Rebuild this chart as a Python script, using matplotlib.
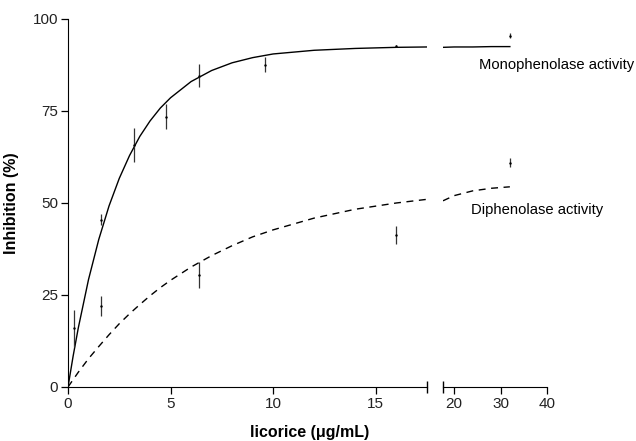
import matplotlib
matplotlib.use('Agg')
import matplotlib.pyplot as plt

plt.rcParams['font.family'] = ['Liberation Sans', 'DejaVu Sans']

mono_x = [0.3, 1.6, 3.2, 4.8, 6.4, 9.6, 16, 32]
mono_y = [16, 45.5, 65.7, 73.5, 84.6, 87.6, 92.7, 95.5]
mono_err = [5, 1.5, 4.6, 3.5, 3.2, 2.0, 0.3, 0.6]

diph_x = [1.6, 6.4, 16, 32]
diph_y = [22, 30.5, 41.3, 61]
diph_err = [2.7, 3.5, 2.5, 1.2]

# fitted curves
curve_x = [0, 0.25, 0.5, 1, 1.5, 2, 2.5, 3, 3.5, 4, 4.5, 5, 6, 7, 8, 9, 10, 12, 14, 16, 17.5]
mono_curve = [0, 8.4, 16.0, 29.2, 40.1, 49.2, 56.7, 62.9, 68.1, 72.3, 75.8, 78.6,
              83.0, 86.0, 88.1, 89.5, 90.5, 91.5, 92.0, 92.3, 92.4]
diph_curve = [0, 2.0, 4.0, 7.7, 11.0, 14.2, 17.2, 19.9, 22.4, 24.8, 27.0, 29.0,
              32.6, 35.7, 38.4, 40.8, 42.7, 45.9, 48.3, 50.0, 51.0]

curve_x2 = [17.6, 20, 24, 28, 32]
mono_curve2 = [92.3, 92.4, 92.4, 92.5, 92.5]
diph_curve2 = [50.6, 52.0, 53.3, 54.0, 54.4]

W, H = 636, 441
fig = plt.figure(figsize=(W / 100, H / 100), dpi=100)
ax1 = fig.add_axes([68 / W, (H - 387) / H, (427 - 68) / W, (387 - 19) / H])
ax2 = fig.add_axes([443 / W, (H - 387) / H, (547 - 443) / W, (387 - 19) / H])

for ax in (ax1, ax2):
    ax.set_ylim(0, 100)
    ax.spines['top'].set_visible(False)
    ax.spines['right'].set_visible(False)
    ax.tick_params(direction='out', length=5, width=0.9, labelsize=11, pad=2,
                   labelcolor='#222222')
    ax.patch.set_alpha(0)

ax1.set_xlim(0, 17.5)
ax2.set_xlim(17.6, 40)
ax1.set_xticks([0, 5, 10, 15])
ax1.set_yticks([0, 25, 50, 75, 100])
ax2.set_xticks([20, 30, 40])
ax2.spines['left'].set_visible(False)
ax2.set_yticks([])

ax1.plot(curve_x, mono_curve, color='black', lw=1.0)
ax1.plot(curve_x, diph_curve, color='black', lw=1.0, linestyle=(0, (5, 4)))
ax2.plot(curve_x2, mono_curve2, color='black', lw=1.0)
ax2.plot(curve_x2, diph_curve2, color='black', lw=1.0, linestyle=(0, (5, 4)))

for ax, lo, hi in ((ax1, 0, 17.5), (ax2, 17.6, 40)):
    mx = [v for v in mono_x if lo <= v <= hi]
    my = [mono_y[i] for i, v in enumerate(mono_x) if lo <= v <= hi]
    me = [mono_err[i] for i, v in enumerate(mono_x) if lo <= v <= hi]
    ax.errorbar(mx, my, yerr=me, fmt='.', ms=1.5, color='black', ecolor='#333333',
                elinewidth=0.9, capsize=0)
    dx = [v for v in diph_x if lo <= v <= hi]
    dy = [diph_y[i] for i, v in enumerate(diph_x) if lo <= v <= hi]
    de = [diph_err[i] for i, v in enumerate(diph_x) if lo <= v <= hi]
    ax.errorbar(dx, dy, yerr=de, fmt='.', ms=1.5, color='black', ecolor='#333333',
                elinewidth=0.9, capsize=0)

# break marks at the ends of the split x axis
ax1.plot([17.5], [0], marker='|', ms=9, mew=1, color='black', clip_on=False)
ax2.plot([17.6], [0], marker='|', ms=9, mew=1, color='black', clip_on=False)

ax2.text(25.4, 87.5, 'Monophenolase activity', fontsize=10.6, va='center', clip_on=False)
ax2.text(23.6, 48.2, 'Diphenolase activity', fontsize=10.6, va='center', clip_on=False)

ax1.set_ylabel('Inhibition (%)', fontsize=11.5, fontweight='bold', labelpad=10)
fig.text(310 / W, 1 - 432 / H, 'licorice (\u03bcg/mL)', fontsize=11.5,
         fontweight='bold', ha='center', va='center')

fig.savefig('out.png', dpi=100)
